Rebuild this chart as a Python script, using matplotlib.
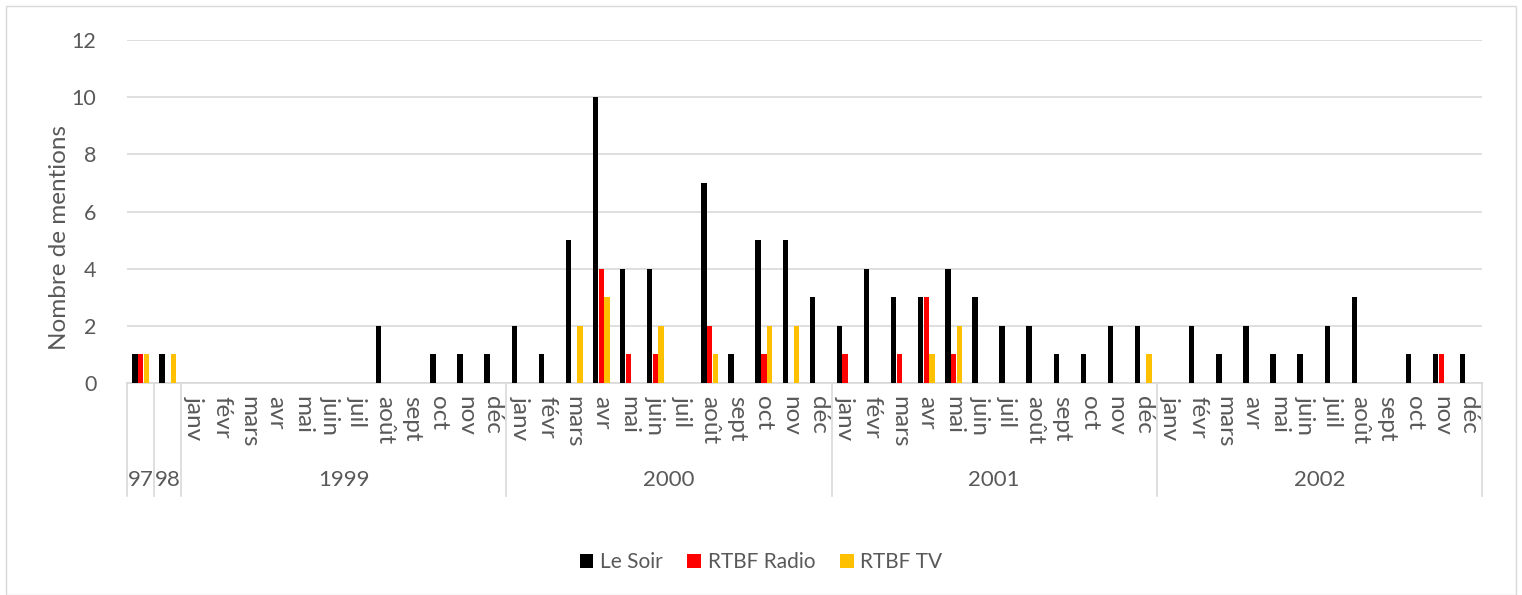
import matplotlib
matplotlib.use("Agg")
import matplotlib.pyplot as plt
from matplotlib.transforms import blended_transform_factory
from matplotlib.patches import Rectangle
import numpy as np

plt.rcParams['font.family'] = ['Lato', 'DejaVu Sans']

months = ["janv", "févr", "mars", "avr", "mai", "juin", "juil", "août", "sept", "oct", "nov", "déc"]
groups = ["97", "98", "1999", "2000", "2001", "2002"]
group_sizes = [1, 1, 12, 12, 12, 12]
month_labels = ["", ""] + months * 4

le_soir = [1, 1,
           0, 0, 0, 0, 0, 0, 0, 2, 0, 1, 1, 1,
           2, 1, 5, 10, 4, 4, 0, 7, 1, 5, 5, 3,
           2, 4, 3, 3, 4, 3, 2, 2, 1, 1, 2, 2,
           0, 2, 1, 2, 1, 1, 2, 3, 0, 1, 1, 1]
rtbf_radio = [1, 0,
              0, 0, 0, 0, 0, 0, 0, 0, 0, 0, 0, 0,
              0, 0, 0, 4, 1, 1, 0, 2, 0, 1, 0, 0,
              1, 0, 1, 3, 1, 0, 0, 0, 0, 0, 0, 0,
              0, 0, 0, 0, 0, 0, 0, 0, 0, 0, 1, 0]
rtbf_tv = [1, 1,
           0, 0, 0, 0, 0, 0, 0, 0, 0, 0, 0, 0,
           0, 0, 2, 3, 0, 2, 0, 1, 0, 2, 2, 0,
           0, 0, 0, 1, 2, 0, 0, 0, 0, 0, 0, 1,
           0, 0, 0, 0, 0, 0, 0, 0, 0, 0, 0, 0]

series = [("Le Soir", le_soir, "#000000"),
          ("RTBF Radio", rtbf_radio, "#FF0000"),
          ("RTBF TV", rtbf_tv, "#FFC000")]

TXT = "#595959"
W, H = 1522, 595
fig = plt.figure(figsize=(W / 100, H / 100), dpi=100)
fig.patches.append(Rectangle((6 / W, 0.5 / H), (1510) / W, (589) / H,
                             transform=fig.transFigure, fill=False,
                             edgecolor="#D9D9D9", linewidth=1))

x0, x1, ytop, ybot = 127, 1482, 40, 383
wpx, hpx = x1 - x0, ybot - ytop
ax = fig.add_axes([x0 / W, (H - ybot) / H, wpx / W, hpx / H])

n = len(le_soir)
x = np.arange(n)
bw = 0.2
for i, (name, vals, col) in enumerate(series):
    ax.bar(x + (i - 1) * 0.21, vals, width=bw, color=col, label=name, zorder=3)

ax.set_xlim(-0.5, n - 0.5)
ax.set_ylim(0, 12)
ax.set_yticks(range(0, 13, 2))
ax.yaxis.grid(True, color="#D9D9D9", linewidth=1.2, zorder=0)
for s in ["top", "right", "left"]:
    ax.spines[s].set_visible(False)
ax.spines["bottom"].set_color("#D9D9D9")
ax.spines["bottom"].set_linewidth(1.2)
ax.tick_params(axis="y", length=0, labelsize=15.5, labelcolor=TXT, pad=22)
ax.set_xticks([])
ax.set_ylabel("Nombre de mentions", fontsize=17.5, color=TXT)
ax.yaxis.set_label_coords((60 - x0) / wpx, (ybot - 238) / hpx)
ax.yaxis.label.set_va("center")

tr = blended_transform_factory(ax.transData, ax.transAxes)
# month labels
for i, lab in enumerate(month_labels):
    if lab:
        ax.text(i, -13 / hpx, lab, rotation=-90, ha="center", va="top",
                fontsize=17.5, color=TXT, transform=tr, clip_on=False)
# separators and group labels
bounds = [-0.5]
for s in group_sizes:
    bounds.append(bounds[-1] + s)
line_bottom = -(496 - ybot) / hpx
for b in bounds:
    ax.plot([b, b], [0, line_bottom], color="#D9D9D9", linewidth=1.2,
            transform=tr, clip_on=False)
for g, a, b in zip(groups, bounds[:-1], bounds[1:]):
    ax.text((a + b) / 2, -(480 - ybot) / hpx, g, ha="center", va="center",
            fontsize=16, color=TXT, transform=tr, clip_on=False)

leg = fig.legend(loc="center", bbox_to_anchor=(0.5, (H - 562) / H), ncol=3,
                 frameon=False, fontsize=15, handlelength=0.67, handleheight=0.67,
                 columnspacing=1.2, handletextpad=0.3)
for t in leg.get_texts():
    t.set_color(TXT)

fig.savefig("out.png", dpi=100)
